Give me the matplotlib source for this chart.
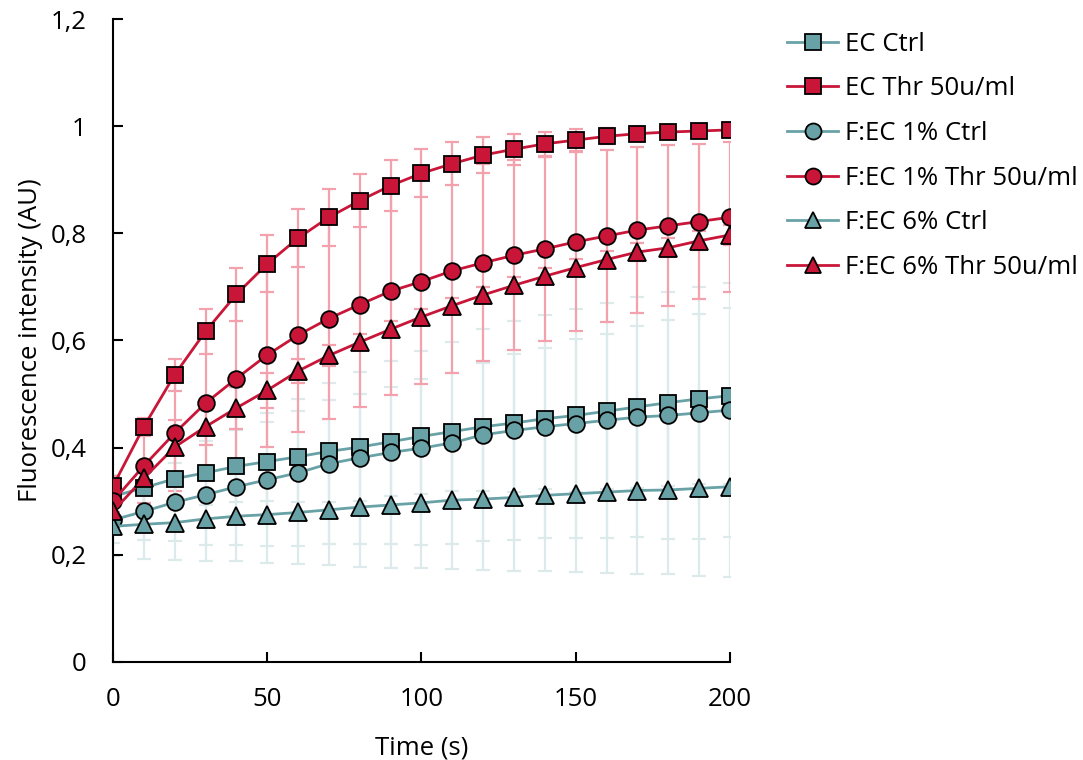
import matplotlib
matplotlib.use("Agg")
import matplotlib.pyplot as plt
import numpy as np

plt.rcParams['font.family'] = ['Open Sans', 'DejaVu Sans']

time_s = [0, 10, 20, 30, 40, 50, 60, 70, 80, 90, 100, 110, 120, 130, 140, 150, 160, 170, 180, 190, 200]

ec_ctrl = [0.309, 0.325, 0.342, 0.353, 0.365, 0.374, 0.383, 0.393, 0.401, 0.411, 0.421, 0.430, 0.439, 0.446, 0.454, 0.460, 0.468, 0.476, 0.484, 0.491, 0.497]
ec_ctrl_err = [0.040, 0.050, 0.055, 0.060, 0.067, 0.073, 0.085, 0.095, 0.100, 0.102, 0.108, 0.110, 0.119, 0.128, 0.132, 0.142, 0.145, 0.151, 0.155, 0.159, 0.164]

ec_thr = [0.328, 0.439, 0.536, 0.617, 0.686, 0.743, 0.791, 0.830, 0.861, 0.889, 0.912, 0.930, 0.946, 0.957, 0.967, 0.974, 0.981, 0.986, 0.989, 0.991, 0.993]
ec_thr_err = [0.020, 0.017, 0.030, 0.042, 0.049, 0.053, 0.054, 0.053, 0.050, 0.047, 0.045, 0.040, 0.034, 0.029, 0.023, 0.021, 0.015, 0.012, 0.010, 0.008, 0.006]

fec1_ctrl = [0.265, 0.281, 0.298, 0.312, 0.327, 0.340, 0.353, 0.370, 0.381, 0.391, 0.399, 0.409, 0.424, 0.432, 0.439, 0.445, 0.451, 0.457, 0.460, 0.465, 0.470]
fec1_ctrl_err = [0.043, 0.054, 0.073, 0.093, 0.108, 0.124, 0.137, 0.150, 0.160, 0.170, 0.181, 0.188, 0.198, 0.204, 0.208, 0.213, 0.219, 0.224, 0.230, 0.235, 0.237]

fec1_thr = [0.300, 0.366, 0.427, 0.483, 0.529, 0.573, 0.610, 0.641, 0.667, 0.692, 0.710, 0.730, 0.745, 0.759, 0.771, 0.784, 0.795, 0.806, 0.814, 0.822, 0.830]
fec1_thr_err = [0.020, 0.070, 0.108, 0.134, 0.155, 0.171, 0.180, 0.188, 0.191, 0.193, 0.192, 0.190, 0.184, 0.177, 0.172, 0.167, 0.160, 0.155, 0.150, 0.145, 0.140]

fec6_ctrl = [0.253, 0.257, 0.260, 0.267, 0.272, 0.275, 0.279, 0.284, 0.289, 0.293, 0.297, 0.302, 0.304, 0.307, 0.311, 0.314, 0.317, 0.320, 0.321, 0.324, 0.327]
fec6_ctrl_err = [0.056, 0.065, 0.070, 0.078, 0.084, 0.091, 0.096, 0.103, 0.111, 0.117, 0.122, 0.128, 0.132, 0.137, 0.142, 0.147, 0.151, 0.155, 0.157, 0.163, 0.168]

fec6_thr = [0.281, 0.343, 0.401, 0.439, 0.474, 0.507, 0.543, 0.572, 0.597, 0.621, 0.644, 0.665, 0.685, 0.703, 0.720, 0.736, 0.751, 0.765, 0.773, 0.786, 0.797]
fec6_thr_err = [0.010, 0.020, 0.050, 0.035, 0.039, 0.033, 0.023, 0.020, 0.015, 0.015, 0.015, 0.015, 0.015, 0.015, 0.015, 0.016, 0.016, 0.017, 0.018, 0.018, 0.018]

labels = ['EC Ctrl', 'EC Thr 50u/ml', 'F:EC 1% Ctrl', 'F:EC 1% Thr 50u/ml', 'F:EC 6% Ctrl', 'F:EC 6% Thr 50u/ml']

y_ticks = [0, 0.2, 0.4, 0.6, 0.8, 1.0, 1.2]
y_tick_labels = ['0', '0,2', '0,4', '0,6', '0,8', '1', '1,2']
x_ticks = [0, 50, 100, 150, 200]

teal = '#69A2A6'
red = '#C91638'
teal_err = '#DDEAEB'
red_err = '#F4A1AE'

series = [
    (ec_ctrl, ec_ctrl_err, 's', teal, teal_err),
    (ec_thr, ec_thr_err, 's', red, red_err),
    (fec1_ctrl, fec1_ctrl_err, 'o', teal, teal_err),
    (fec1_thr, fec1_thr_err, 'o', red, red_err),
    (fec6_ctrl, fec6_ctrl_err, '^', teal, teal_err),
    (fec6_thr, fec6_thr_err, '^', red, red_err),
]

FS = 18.5

fig = plt.figure(figsize=(10.83, 7.6), dpi=100)
ax = fig.add_axes([0.1043, 0.129, 0.5697, 0.846])

# error bars first (behind all lines and markers)
for vals, err, mk, col, ecol in series:
    ax.errorbar(time_s, vals, yerr=err, fmt='none', ecolor=ecol,
                elinewidth=1.6, capsize=5, capthick=1.6, zorder=1)

handles = []
for (vals, err, mk, col, ecol), lab in zip(series, labels):
    ms = 12 if mk != '^' else 13
    h, = ax.plot(time_s, vals, color=col, lw=2.0, marker=mk, markersize=ms,
                 markerfacecolor=col, markeredgecolor='black', markeredgewidth=1.3,
                 label=lab, zorder=3)
    handles.append(h)

ax.set_xlim(0, 200)
ax.set_ylim(0, 1.2)
ax.set_xticks(x_ticks)
ax.set_xticklabels([str(v) for v in x_ticks])
ax.set_yticks(y_ticks)
ax.set_yticklabels(y_tick_labels)
ax.tick_params(axis='both', direction='in', length=7, width=1.5, labelsize=FS, colors='black')
ax.tick_params(axis='y', pad=19)
ax.tick_params(axis='x', pad=18)
for s in ['top', 'right']:
    ax.spines[s].set_visible(False)
for s in ['left', 'bottom']:
    ax.spines[s].set_linewidth(1.5)
    ax.spines[s].set_color('black')

ax.set_xlabel('Time (s)', fontsize=FS, labelpad=17)
ax.set_ylabel('Fluorescence intensity (AU)', fontsize=FS, labelpad=5)

leg = fig.legend(handles=handles, labels=labels, loc='upper left',
                 bbox_to_anchor=(0.7267, 0.958), frameon=False, fontsize=FS,
                 handlelength=2.0, handletextpad=0.27, labelspacing=0.76,
                 borderpad=0, borderaxespad=0)
for h in leg.legend_handles:
    h.set_markersize(11.5)

fig.savefig('out.png', dpi=100)
